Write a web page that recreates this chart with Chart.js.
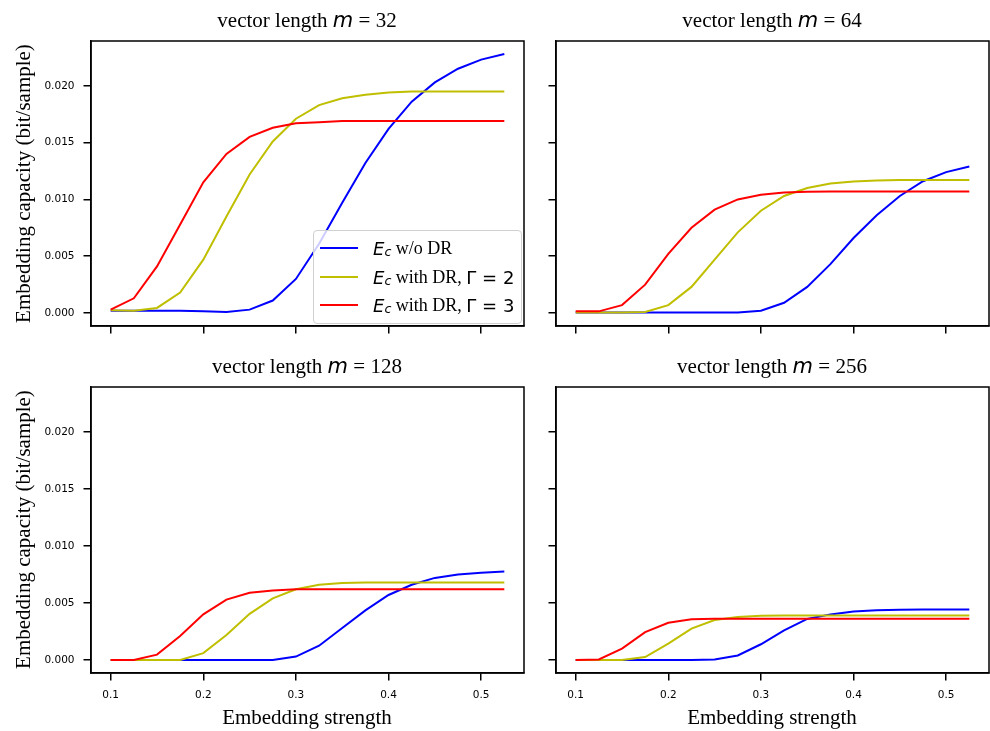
<!DOCTYPE html>
<html>
<head>
<meta charset="utf-8">
<script src="https://cdn.jsdelivr.net/npm/chart.js@4.4.1/dist/chart.umd.min.js"></script>
<style>
body{margin:0;width:990px;height:731px;background:#fff;position:relative;overflow:hidden}
canvas{position:absolute}
.txt{position:absolute;font-family:"Liberation Serif","Times New Roman",serif;font-size:21px;line-height:21px;color:#000;white-space:nowrap;text-align:center}
.mi{font-family:"DejaVu Sans";font-style:italic}
.mr{font-family:"DejaVu Sans"}
.sub{font-family:"DejaVu Sans";font-style:italic;font-size:0.7em;position:relative;top:0.25em}
#legend{position:absolute;left:313px;top:230px;width:207px;height:92px;border:1px solid #d0d0d0;border-radius:4px;background:rgba(255,255,255,0.8);z-index:5}
.row{position:absolute;left:0;height:28px;display:flex;align-items:center;font-family:"Liberation Serif",serif;font-size:18px;white-space:nowrap}
.swatch{display:inline-block;width:38px;height:2px;margin-left:6px;margin-right:15px}
</style>
</head>
<body>
<canvas id="c32"></canvas>
<canvas id="c64"></canvas>
<canvas id="c128"></canvas>
<canvas id="c256"></canvas>

<div class="txt" style="left:107px;top:10px;width:400px">vector length <span class="mi">m</span> = 32</div>
<div class="txt" style="left:572px;top:10px;width:400px">vector length <span class="mi">m</span> = 64</div>
<div class="txt" style="left:107px;top:356px;width:400px">vector length <span class="mi">m</span> = 128</div>
<div class="txt" style="left:572px;top:356px;width:400px">vector length <span class="mi">m</span> = 256</div>

<div class="txt" style="left:107px;top:707px;width:400px">Embedding strength</div>
<div class="txt" style="left:572px;top:707px;width:400px">Embedding strength</div>

<div class="txt" style="left:-177px;top:173px;width:400px;transform:rotate(-90deg)">Embedding capacity (bit/sample)</div>
<div class="txt" style="left:-177px;top:519px;width:400px;transform:rotate(-90deg)">Embedding capacity (bit/sample)</div>

<div id="legend">
  <div class="row" style="top:3px"><span class="swatch" style="background:#0000ff"></span><span class="mi">E</span><span class="sub">c</span>&nbsp;w/o DR</div>
  <div class="row" style="top:32px"><span class="swatch" style="background:#bfbf00"></span><span class="mi">E</span><span class="sub">c</span>&nbsp;with DR,&nbsp;<span class="mr">Γ = 2</span></div>
  <div class="row" style="top:60px"><span class="swatch" style="background:#ff0000"></span><span class="mi">E</span><span class="sub">c</span>&nbsp;with DR,&nbsp;<span class="mr">Γ = 3</span></div>
</div>

<script>
// embedding strength (x) and capacity values
const xs = [0.1, 0.125, 0.15, 0.175, 0.2, 0.225, 0.25, 0.275, 0.3, 0.325, 0.35, 0.375, 0.4, 0.425, 0.45, 0.475, 0.5, 0.525];

const m32NoDR = [0.0002, 0.0002, 0.0002, 0.0002, 0.00015, 0.0001, 0.0003, 0.0011, 0.0030, 0.0061, 0.0097, 0.0132, 0.0162, 0.0186, 0.0203, 0.0215, 0.0223, 0.0228];
const m32DR2  = [0.00025, 0.0002, 0.00045, 0.0018, 0.0047, 0.0085, 0.0122, 0.0151, 0.0171, 0.0183, 0.0189, 0.0192, 0.0194, 0.0195, 0.0195, 0.0195, 0.0195, 0.0195];
const m32DR3  = [0.0003, 0.0013, 0.0041, 0.0078, 0.0115, 0.0140, 0.0155, 0.0163, 0.0167, 0.0168, 0.0169, 0.0169, 0.0169, 0.0169, 0.0169, 0.0169, 0.0169, 0.0169];

const m64NoDR = [0.00005, 0.00005, 0.00005, 0.00005, 0.00005, 0.00005, 0.00005, 0.00005, 0.0002, 0.0009, 0.0023, 0.0043, 0.0066, 0.0086, 0.0103, 0.0116, 0.0124, 0.0129];
const m64DR2  = [0.00005, 0.00005, 0.00005, 0.0001, 0.0007, 0.0023, 0.0047, 0.0071, 0.0090, 0.0103, 0.0110, 0.0114, 0.01157, 0.01166, 0.0117, 0.0117, 0.0117, 0.0117];
const m64DR3  = [0.00015, 0.00015, 0.0007, 0.0025, 0.0052, 0.0075, 0.0091, 0.0100, 0.0104, 0.0106, 0.01067, 0.0107, 0.0107, 0.0107, 0.0107, 0.0107, 0.0107, 0.0107];

const m128NoDR = [0, 0, 0, 0, 0, 0, 0, 0, 0.0003, 0.00125, 0.0028, 0.00435, 0.0057, 0.0066, 0.0072, 0.0075, 0.00765, 0.00775];
const m128DR2  = [0, 0, 0, 0, 0.0006, 0.0022, 0.00405, 0.0054, 0.0062, 0.0066, 0.00675, 0.0068, 0.0068, 0.0068, 0.0068, 0.0068, 0.0068, 0.0068];
const m128DR3  = [0, 0, 0.00047, 0.0021, 0.0040, 0.0053, 0.0059, 0.0061, 0.0062, 0.0062, 0.0062, 0.0062, 0.0062, 0.0062, 0.0062, 0.0062, 0.0062, 0.0062];

const m256NoDR = [0, 0, 0, 0, 0, 0, 0.00005, 0.0004, 0.00138, 0.0026, 0.0036, 0.0040, 0.00425, 0.00437, 0.0044, 0.00443, 0.00443, 0.00443];
const m256DR2  = [0, 0, 0, 0.00026, 0.00143, 0.00275, 0.0035, 0.00378, 0.00387, 0.0039, 0.0039, 0.0039, 0.0039, 0.0039, 0.0039, 0.0039, 0.0039, 0.0039];
const m256DR3  = [0, 0.00005, 0.001, 0.00245, 0.00327, 0.00357, 0.00362, 0.00362, 0.00362, 0.00362, 0.00362, 0.00362, 0.00362, 0.00362, 0.00362, 0.00362, 0.00362, 0.00362];

const xTicks = [0.1, 0.2, 0.3, 0.4, 0.5];
const yTicks = [0, 0.005, 0.01, 0.015, 0.02];
const X_MIN = 0.07875, X_MAX = 0.54625;
const Y_MIN = -0.00114, Y_MAX = 0.02394;

// full box around the plot area (matplotlib spines)
const frame = {
  id: 'frame',
  afterDraw(chart){
    const a = chart.chartArea, ctx = chart.ctx;
    ctx.save();
    ctx.strokeStyle = '#000';
    ctx.lineWidth = 1.5;
    ctx.strokeRect(a.left, a.top, a.right - a.left, a.bottom - a.top);
    ctx.restore();
  }
};

function pts(arr){ return xs.map((x, i) => ({x: x, y: arr[i]})); }

function panel(id, rect, series, showX, showY){
  const axisW = showY ? 91 : 40;
  const w = axisW + rect.r - rect.l + 4;
  const h = 10 + rect.b - rect.t + 40;
  const cv = document.getElementById(id);
  cv.width = w; cv.height = h;
  cv.style.width = w + 'px'; cv.style.height = h + 'px';
  cv.style.left = (rect.l - axisW) + 'px';
  cv.style.top = (rect.t - 10) + 'px';

  new Chart(cv, {
    type: 'line',
    data: {
      datasets: [
        { data: pts(series[0]), borderColor: '#0000ff', order: 3 },
        { data: pts(series[1]), borderColor: '#bfbf00', order: 2 },
        { data: pts(series[2]), borderColor: '#ff0000', order: 1 }
      ]
    },
    options: {
      responsive: false,
      animation: false,
      devicePixelRatio: 1,
      layout: { padding: { top: 10, right: 4, left: 0, bottom: 0 } },
      elements: { point: { radius: 0 }, line: { borderWidth: 2, tension: 0 } },
      plugins: { legend: { display: false }, tooltip: { enabled: false } },
      scales: {
        x: {
          type: 'linear', min: X_MIN, max: X_MAX,
          afterBuildTicks: ax => { ax.ticks = xTicks.map(v => ({value: v})); },
          afterFit: ax => { ax.height = 40; ax.paddingLeft = 0; ax.paddingRight = 0; },
          grid: { drawOnChartArea: false, drawTicks: true, tickLength: 7.5, color: '#000', lineWidth: 1.5 },
          border: { display: true, color: '#000', width: 1.5 },
          ticks: { display: showX, padding: 8, color: '#000', maxRotation: 0,
                   font: { family: 'DejaVu Sans', size: 10.5 },
                   callback: v => v.toFixed(1) }
        },
        y: {
          type: 'linear', min: Y_MIN, max: Y_MAX,
          afterBuildTicks: ax => { ax.ticks = yTicks.map(v => ({value: v})); },
          afterFit: ax => { ax.width = axisW; ax.paddingTop = 0; ax.paddingBottom = 0; },
          grid: { drawOnChartArea: false, drawTicks: true, tickLength: 7.5, color: '#000', lineWidth: 1.5 },
          border: { display: true, color: '#000', width: 1.5 },
          ticks: { display: showY, padding: 9, color: '#000',
                   font: { family: 'DejaVu Sans', size: 10.5 },
                   callback: v => v.toFixed(3) }
        }
      }
    },
    plugins: [frame]
  });
}

panel('c32',  {l: 91,  t: 41,  r: 524, b: 326}, [m32NoDR, m32DR2, m32DR3], false, true);
panel('c64',  {l: 556, t: 41,  r: 989, b: 326}, [m64NoDR, m64DR2, m64DR3], false, false);
panel('c128', {l: 91,  t: 387, r: 524, b: 673}, [m128NoDR, m128DR2, m128DR3], true, true);
panel('c256', {l: 556, t: 387, r: 989, b: 673}, [m256NoDR, m256DR2, m256DR3], true, false);
</script>
</body>
</html>
